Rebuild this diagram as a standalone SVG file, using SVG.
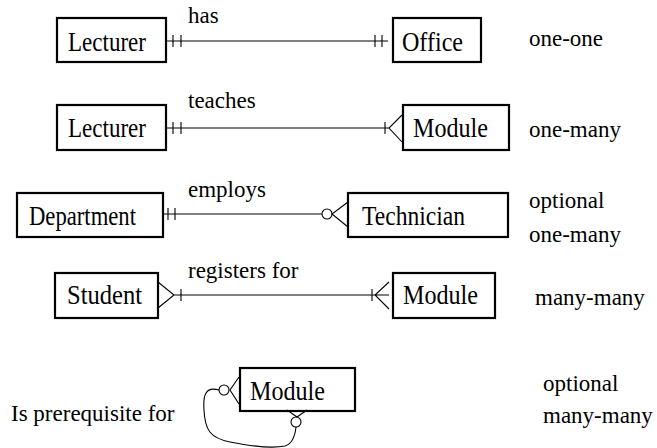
<svg xmlns="http://www.w3.org/2000/svg" width="657" height="448" viewBox="0 0 657 448">
  <style>
    .box { fill: #fff; stroke: #000; stroke-width: 2.2; }
    text { fill: #000; }
    .name { font-family: "Liberation Serif", serif; font-size: 28px; }
    .lbl { font-family: "Liberation Serif", serif; font-size: 23px; }
    .ln { fill: none; stroke: #000; stroke-width: 1.1; }
  </style>
  <rect width="657" height="448" fill="#fff"/>

  <!-- entities -->
  <g id="lecturer1"><rect class="box" x="57" y="18" width="109" height="44"/><text class="name" x="68" y="51" textLength="78" lengthAdjust="spacingAndGlyphs">Lecturer</text></g>
  <g id="office"><rect class="box" x="393" y="18" width="88" height="44"/><text class="name" x="402" y="51" textLength="61" lengthAdjust="spacingAndGlyphs">Office</text></g>
  <g id="lecturer2"><rect class="box" x="57" y="105" width="109" height="45"/><text class="name" x="68" y="137" textLength="78" lengthAdjust="spacingAndGlyphs">Lecturer</text></g>
  <g id="module1"><rect class="box" x="403" y="105" width="106" height="45"/><text class="name" x="413" y="137" textLength="75" lengthAdjust="spacingAndGlyphs">Module</text></g>
  <g id="department"><rect class="box" x="17" y="193" width="146" height="44"/><text class="name" x="29" y="225" textLength="107" lengthAdjust="spacingAndGlyphs">Department</text></g>
  <g id="technician"><rect class="box" x="348" y="193" width="160" height="44"/><text class="name" x="362" y="225" textLength="103" lengthAdjust="spacingAndGlyphs">Technician</text></g>
  <g id="student"><rect class="box" x="55" y="273" width="103" height="45"/><text class="name" x="67" y="304" textLength="75" lengthAdjust="spacingAndGlyphs">Student</text></g>
  <g id="module2"><rect class="box" x="393" y="273" width="102" height="45"/><text class="name" x="403" y="304" textLength="75" lengthAdjust="spacingAndGlyphs">Module</text></g>
  <g id="module3"><rect class="box" x="240" y="368" width="115" height="43"/><text class="name" x="250" y="400" textLength="75" lengthAdjust="spacingAndGlyphs">Module</text></g>

  <!-- relationships -->
  <g id="connectors" class="ln">
    <!-- has: one-one -->
    <path d="M166,41 H388 M173,35 V47 M181,35 V47 M375,35 V47 M382,35 V47"/>
    <!-- teaches: one-many -->
    <path d="M166,128 H389 M173,122 V134 M181,122 V134 M385,122 V134 M402,115 L389,128 L402,142"/>
    <!-- employs: optional one-many -->
    <path d="M163,214 H322 M168,208 V220 M175,208 V220 M348,202 L332,214 L348,227"/>
    <circle cx="327" cy="214" r="5"/>
    <!-- registers for: many-many -->
    <path d="M158,282 L174,295 L158,308 M174,295 H389 M181,289 V301 M372,289 V301 M389,282 L375,295 L389,309"/>
    <!-- is prerequisite for: optional many-many, recursive -->
    <path d="M239,377 L230,390 L239,404"/>
    <circle cx="224" cy="390" r="5"/>
    <path d="M287,410 L297,417 L307,410"/>
    <circle cx="296" cy="422" r="5"/>
    <path d="M219,390 C205,386 203,396 204,410 C205,430 210,438 230,442 C250,446 270,449 285,446 C292,444 295,436 296,427"/>
  </g>

  <!-- relationship names -->
  <g id="labels">
    <text class="lbl" x="188" y="23">has</text>
    <text class="lbl" x="188" y="108">teaches</text>
    <text class="lbl" x="188" y="197">employs</text>
    <text class="lbl" x="188" y="278">registers for</text>
    <text class="lbl" x="11" y="421">Is prerequisite for</text>
  </g>

  <!-- cardinality notes -->
  <g id="notes">
    <text class="lbl" x="529" y="46">one-one</text>
    <text class="lbl" x="529" y="137">one-many</text>
    <text class="lbl" x="529" y="208">optional</text>
    <text class="lbl" x="529" y="242">one-many</text>
    <text class="lbl" x="535" y="305">many-many</text>
    <text class="lbl" x="543" y="391">optional</text>
    <text class="lbl" x="543" y="423">many-many</text>
  </g>
</svg>
